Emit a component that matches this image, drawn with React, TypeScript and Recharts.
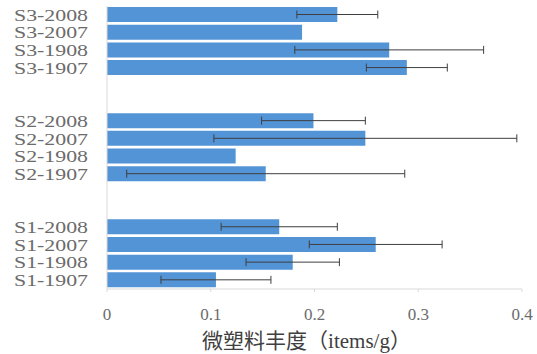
import { BarChart, Bar, XAxis, YAxis, ErrorBar, Label } from 'recharts';

// categories top to bottom, "gap" rows keep the space between the sites
const categories = [
  'S3-2008', 'S3-2007', 'S3-1908', 'S3-1907', 'gap1', 'gap2',
  'S2-2008', 'S2-2007', 'S2-1908', 'S2-1907', 'gap3', 'gap4',
  'S1-2008', 'S1-2007', 'S1-1908', 'S1-1907',
];
const abundance = [
  0.222, 0.188, 0.272, 0.289, null, null,
  0.199, 0.249, 0.124, 0.153, null, null,
  0.166, 0.259, 0.179, 0.105,
];
const errors = [
  0.039, null, 0.091, 0.039, null, null,
  0.05, 0.146, null, 0.134, null, null,
  0.056, 0.064, 0.045, 0.053,
];
const xTicks = [0, 0.1, 0.2, 0.3, 0.4];

const data = categories.map((name, i) => ({ name, value: abundance[i], err: errors[i] }));

const SERIF = '"Liberation Serif", "Times New Roman", serif';

// the labels in the source are wide but short, so stretch them sideways
function SiteTick({ x, y, payload }: any) {
  const v: string = payload.value;
  if (v.startsWith('gap')) return null;
  return (
    <text
      x={x}
      y={y}
      dy="0.35em"
      textAnchor="end"
      fontSize={17}
      fill="#6b6b6b"
      fontFamily={SERIF}
      textLength={74}
      lengthAdjust="spacingAndGlyphs"
    >
      {v}
    </text>
  );
}

export default function App() {
  return (
    <div style={{ position: 'absolute', left: 0, top: 0, background: '#fff' }}>
      <BarChart
        width={537}
        height={354}
        data={data}
        layout="vertical"
        margin={{ top: 6, right: 15, bottom: 0, left: 0 }}
        barSize={15}
      >
        <XAxis
          type="number"
          domain={[0, 0.4]}
          ticks={xTicks}
          height={65}
          tickFormatter={(v: number) => String(v)}
          axisLine={{ stroke: '#d9d9d9' }}
          tickLine={{ stroke: '#d9d9d9' }}
          tickSize={3}
          tickMargin={16}
          tick={{ fontSize: 17, fill: '#6b6b6b', fontFamily: SERIF }}
        >
          <Label
            value="微塑料丰度（items/g）"
            position="insideBottom"
            offset={6}
            dx={-8}
            style={{ fontSize: 21, fill: '#404040', fontFamily: '"Liberation Serif", "Noto Sans CJK SC", serif' }}
          />
        </XAxis>
        <YAxis
          type="category"
          dataKey="name"
          width={107}
          interval={0}
          axisLine={{ stroke: '#d9d9d9' }}
          tickLine={false}
          tickSize={0}
          tickMargin={19}
          tick={<SiteTick />}
        />
        <Bar dataKey="value" fill="#5294d6" isAnimationActive={false}>
          <ErrorBar dataKey="err" direction="x" width={4} stroke="#3f3f3f" strokeWidth={1} />
        </Bar>
      </BarChart>
    </div>
  );
}
